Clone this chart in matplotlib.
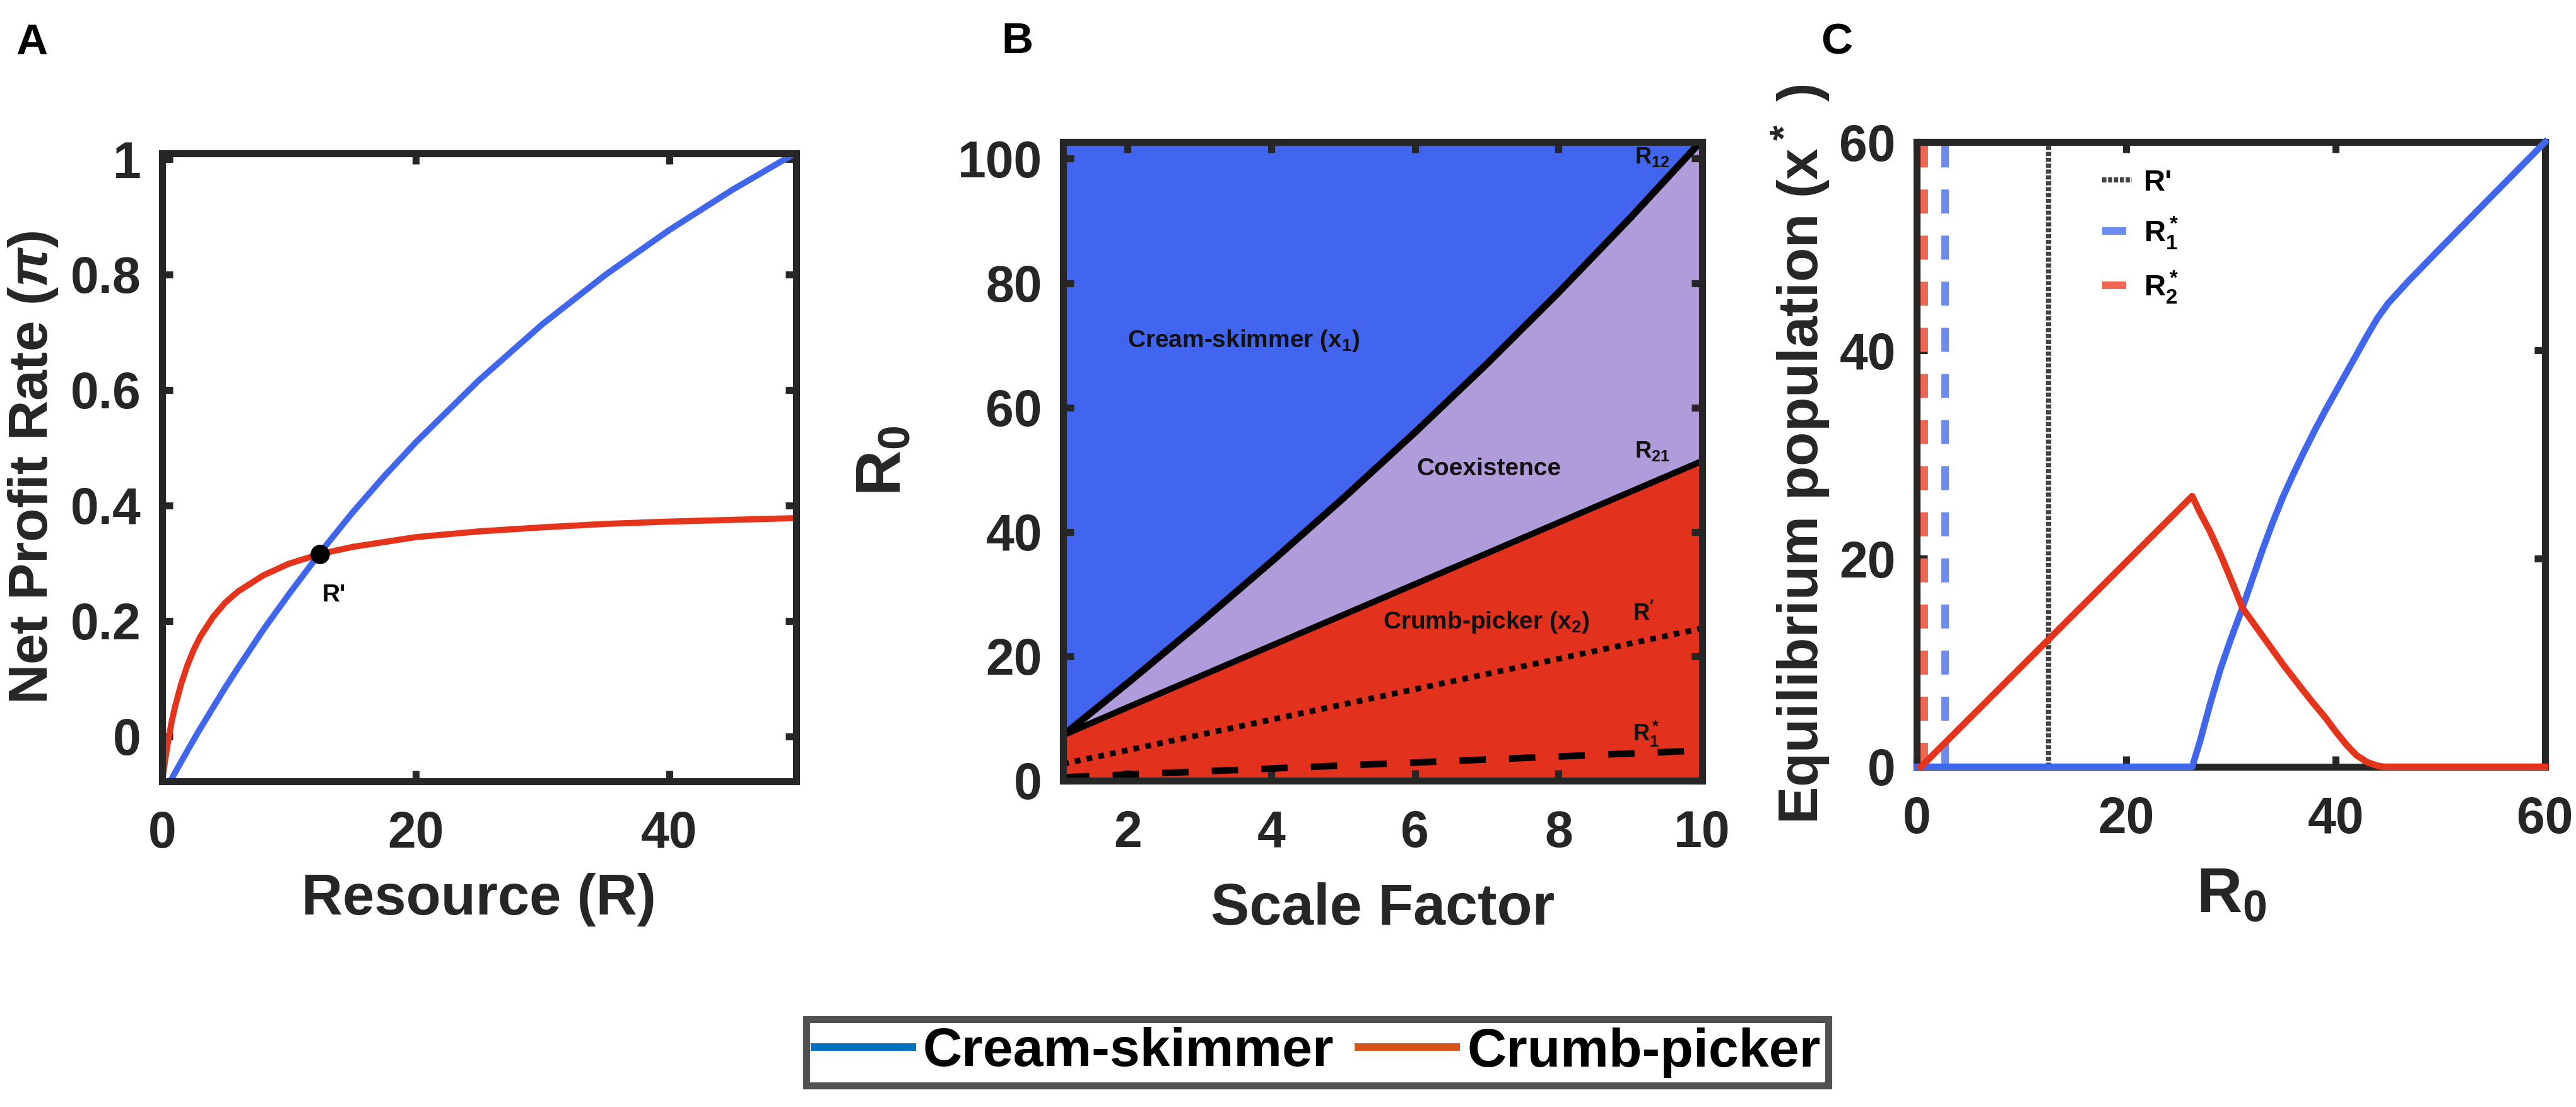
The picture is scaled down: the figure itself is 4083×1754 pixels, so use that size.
import numpy as np
import matplotlib
matplotlib.use("Agg")
import matplotlib.pyplot as plt
from matplotlib.lines import Line2D

plt.rcParams['font.family'] = ['Liberation Sans', 'DejaVu Sans']
plt.rcParams['font.weight'] = 'bold'
plt.rcParams['axes.labelweight'] = 'bold'
plt.rcParams['mathtext.fontset'] = 'custom'
plt.rcParams['mathtext.rm'] = 'Liberation Sans:bold'
plt.rcParams['mathtext.bf'] = 'Liberation Sans:bold'
plt.rcParams['mathtext.sf'] = 'Liberation Sans:bold'
plt.rcParams['mathtext.it'] = 'Liberation Sans:bold:italic'
plt.rcParams['lines.scale_dashes'] = False

# ---------------- data ----------------
# Panel A: net profit rate vs resource
res_blue = [0.65, 1, 2, 3, 4, 5, 6, 8, 10, 12.5, 15, 17.5, 20, 25, 30, 35, 40, 45, 50]
pi_blue = [-0.078, -0.064, -0.025, 0.013, 0.049, 0.085, 0.119, 0.185, 0.246, 0.319,
           0.387, 0.450, 0.509, 0.617, 0.714, 0.800, 0.877, 0.947, 1.011]
res_red = [0, 0.25, 0.5, 0.75, 1, 1.5, 2, 2.5, 3, 4, 5, 6, 8, 10, 12.5, 15, 20, 25,
           30, 35, 40, 45, 50]
pi_red = [-0.080, -0.040, -0.006, 0.024, 0.049, 0.090, 0.123, 0.150, 0.172, 0.206,
          0.232, 0.251, 0.279, 0.299, 0.316, 0.328, 0.345, 0.355, 0.362, 0.368,
          0.372, 0.375, 0.378]
r_cross = 12.45
pi_cross = 0.316

# Panel B: boundaries vs scale factor
scale_12 = [1.1, 2, 3, 4, 5, 6, 7, 8, 9, 10]
r12 = [7.3, 15.7, 25.3, 35.2, 45.4, 56.0, 67.0, 78.5, 90.5, 103.0]
scale_21 = [1.1, 2, 4, 6, 8, 10]
r21 = [7.3, 11.8, 21.7, 31.6, 41.5, 51.4]
scale_rp = [1.1, 10]
rprime_b = [2.7, 24.5]
scale_r1 = [1.1, 10]
r1star_b = [0.55, 4.85]

# Panel C: equilibrium populations vs R0
r0_x1 = [0, 26.3, 27, 28, 29, 30, 31, 32, 33, 34, 35, 36, 37, 38, 39, 40, 41, 42, 43,
         44, 45, 46, 47, 50, 55, 60]
x1_eq = [0, 0, 2.3, 6.0, 9.4, 12.3, 15.0, 17.9, 20.8, 23.5, 26.0, 28.2, 30.3, 32.3,
         34.2, 36.0, 37.8, 39.6, 41.4, 43.1, 44.5, 45.6, 46.7, 49.8, 54.9, 60.0]
r0_x2 = [0.4, 26.3, 27, 28, 29, 30, 31.1, 32, 33, 34, 35, 36, 37, 38, 39, 40, 41, 42,
         43, 44, 44.6, 60]
x2_eq = [0, 26.0, 24.5, 22.6, 20.4, 18.0, 15.25, 14.0, 12.6, 11.2, 9.8, 8.5, 7.2,
         5.95, 4.75, 3.4, 2.15, 1.1, 0.45, 0.1, 0, 0]
r2star_c = 0.7
r1star_c = 2.7
rprime_c = 12.6

legend_labels = ['Cream-skimmer', 'Crumb-picker']

# ---------------- style ----------------
AX = '#262626'
BLUE = '#4166EE'
RED = '#E5341C'
BLUE_FILL = '#4265F0'
LAV_FILL = '#B09CDA'
RED_FILL = '#E2321E'
BLUE_DASH = '#6B8BF2'
RED_DASH = '#F06650'
SPW = 8.0

fig = plt.figure(figsize=(40.83, 17.54), dpi=100)


def style(ax):
    for sp in ax.spines.values():
        sp.set_linewidth(SPW)
        sp.set_color(AX)
        sp.set_zorder(2.5)
    ax.tick_params(direction='in', top=True, right=True, length=12, width=SPW,
                   color=AX, labelsize=58, labelcolor=AX)
    ax.tick_params(axis='x', pad=33)
    ax.tick_params(axis='y', pad=24)


# ---------------- Panel A ----------------
axA = fig.add_axes([0.0629, 0.2942, 0.2461, 0.5673])
axA.plot(res_blue, pi_blue, color=BLUE, lw=7, solid_joinstyle='round')
axA.plot(res_red, pi_red, color=RED, lw=7, solid_joinstyle='round')
axA.plot([r_cross], [pi_cross], 'o', color='k', ms=21, zorder=4)
axA.text(r_cross + 0.15, 0.245, "R'", fontsize=28, ha='left', va='center', color='k')
axA.set_xlim(0, 50)
axA.set_ylim(-0.078, 1.01)
axA.set_xticks([0, 20, 40])
axA.set_yticks([0, 0.2, 0.4, 0.6, 0.8, 1.0])
axA.set_yticklabels(['0', '0.2', '0.4', '0.6', '0.8', '1'])
style(axA)
axA.set_xlabel('Resource (R)', fontsize=65, color=AX, va='baseline')
axA.xaxis.set_label_coords(0.5, -0.212)
axA.set_ylabel('Net Profit Rate ($\\pi$)', fontsize=63, color=AX, va='baseline')
axA.yaxis.set_label_coords(-0.181, 0.5)

# ---------------- Panel B ----------------
axB = fig.add_axes([0.4127, 0.2948, 0.2481, 0.5770])
axB.set_facecolor(BLUE_FILL)
axB.fill(np.r_[scale_12, scale_21[::-1]], np.r_[r12, r21[::-1]], color=LAV_FILL, lw=0)
axB.fill_between(scale_21, 0, r21, color=RED_FILL, lw=0)
axB.plot(scale_12, r12, color='k', lw=8, solid_joinstyle='round')
axB.plot(scale_21, r21, color='k', lw=7, solid_joinstyle='round')
axB.plot(scale_rp, rprime_b, color='k', lw=6.5, linestyle=(0, (6.5, 7.2)))
axB.plot(scale_r1, r1star_b, color='k', lw=7.5, linestyle=(0, (30, 26.6)))
TXT = '#111111'
axB.text(2.0, 70.7, 'Cream-skimmer (x$_1$)', fontsize=28, ha='left', va='center', color=TXT)
axB.text(6.02, 50.1, 'Coexistence', fontsize=28, ha='left', va='center', color=TXT)
axB.text(5.55, 25.5, 'Crumb-picker (x$_2$)', fontsize=28, ha='left', va='center', color=TXT)
axB.text(9.06, 100.3, 'R$_{12}$', fontsize=26, ha='left', va='center', color=TXT)
axB.text(9.06, 53.0, 'R$_{21}$', fontsize=26, ha='left', va='center', color=TXT)
axB.text(9.03, 26.8, "R$'$", fontsize=26, ha='left', va='center', color=TXT)
axB.text(9.03, 7.5, 'R$_1^*$', fontsize=26, ha='left', va='center', color=TXT)
axB.set_xlim(1.1, 10)
axB.set_ylim(0, 102.7)
axB.set_xticks([2, 4, 6, 8, 10])
axB.set_yticks([0, 20, 40, 60, 80, 100])
style(axB)
axB.set_xlabel('Scale Factor', fontsize=66, color=AX, va='baseline')
axB.xaxis.set_label_coords(0.5, -0.2253)
axB.set_ylabel('R$_0$', fontsize=72, color=AX, va='baseline')
axB.yaxis.set_label_coords(-0.254, 0.5)

# ---------------- Panel C ----------------
axC = fig.add_axes([0.7441, 0.3073, 0.2439, 0.5644])
vR = axC.axvline(rprime_c, color='#444444', lw=6, linestyle=(0, (4.8, 1.9)), label="R'")
v1 = axC.axvline(r1star_c, color=BLUE_DASH, lw=8.6, linestyle=(0, (27.4, 25.2)), label='R$_1^*$')
v2 = axC.axvline(r2star_c, color=RED_DASH, lw=8.6, linestyle=(0, (27.4, 25.2)), label='R$_2^*$')
axC.plot(r0_x1, x1_eq, color=BLUE, lw=7.5, solid_joinstyle='round', clip_on=False, zorder=3)
axC.plot(r0_x2, x2_eq, color=RED, lw=7.5, solid_joinstyle='round', clip_on=False, zorder=3.1)
axC.set_xlim(0, 60)
axC.set_ylim(0, 60)
axC.set_xticks([0, 20, 40, 60])
axC.set_yticks([0, 20, 40, 60])
style(axC)
axC.legend(handles=[vR, v1, v2], loc='upper left', bbox_to_anchor=(0.262, 0.99),
           frameon=False, fontsize=34, handlelength=1.0, handletextpad=0.4,
           labelspacing=0.6, borderpad=0.2)
axC.set_xlabel('R$_0$', fontsize=72, color=AX, va='baseline')
axC.xaxis.set_label_coords(0.5, -0.233)
axC.set_ylabel('Equilibrium population (x$^*$ )', fontsize=64, color=AX, va='baseline')
axC.yaxis.set_label_coords(-0.157, 0.5)

# ---------------- panel letters ----------------
fig.text(25 / 4083, 1 - 86 / 1754, 'A', fontsize=50, ha='left', va='baseline', color='k')
fig.text(1587 / 4083, 1 - 84 / 1754, 'B', fontsize=50, ha='left', va='baseline', color='k')
fig.text(2886 / 4083, 1 - 86 / 1754, 'C', fontsize=50, ha='left', va='baseline', color='k')

# ---------------- bottom legend ----------------
handles = [Line2D([], [], color='#0072BD', lw=8.6), Line2D([], [], color='#D95319', lw=8.6)]
leg = fig.legend(handles, legend_labels, loc='center', bbox_to_anchor=(2088 / 4083, 1 - 1667.5 / 1754),
                 ncol=2, frameon=True, fancybox=False, fontsize=62, handlelength=1.8,
                 handletextpad=0.2, columnspacing=0.45, borderpad=0.15, edgecolor=AX)
leg.get_frame().set_linewidth(SPW)

fig.savefig('out.png', dpi=100, facecolor='white')
